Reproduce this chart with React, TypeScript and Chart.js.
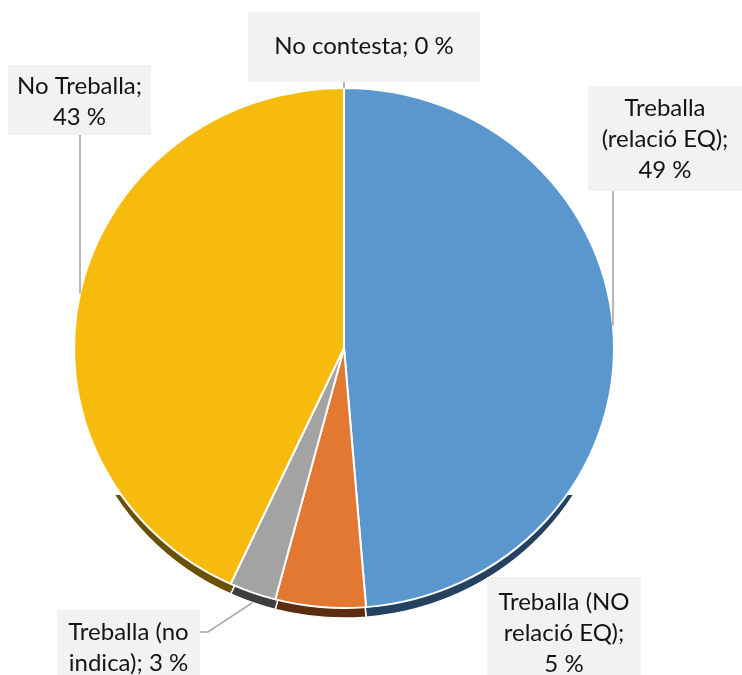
import React, { useEffect, useRef } from "react";
import { Chart, registerables } from "chart.js";

Chart.register(...registerables);

const categories = [
  "Treballa (relació EQ)",
  "Treballa (NO relació EQ)",
  "Treballa (no indica)",
  "No Treballa",
  "No contesta",
];
const values = [48.7, 5.4, 2.8, 43.1, 0];
const labelLines = [
  ["Treballa", "(relació EQ);", "49 %"],
  ["Treballa (NO", "relació EQ);", "5 %"],
  ["Treballa (no", "indica); 3 %"],
  ["No Treballa;", "43 %"],
  ["No contesta; 0 %"],
];
const faceColors = ["#5B97CF", "#E37832", "#A3A3A3", "#F7BB0D", "#70AD47"];
const sideColors = ["#24425F", "#5C2C10", "#3E3E3E", "#6A5006", "#2F4A1E"];

// layout of label boxes (x, y, w, h), first text line y, and leader anchors
const boxes = [
  { x: 588, y: 86, w: 154, h: 105, ty: 108, ax: 613, ay: 191, mode: "vertical" },
  { x: 487, y: 577, w: 154, h: 98, ty: 602, ax: 0, ay: 0, mode: "none" },
  { x: 57, y: 610, w: 143, h: 65, ty: 632, ax: 200, ay: 632, mode: "elbow" },
  { x: 8, y: 65, w: 143, h: 70, ty: 86, ax: 80, ay: 135, mode: "vertical" },
  { x: 248, y: 12, w: 232, h: 70, ty: 46, ax: 344, ay: 82, mode: "vertical" },
];

const FONT = "Lato, 'Open Sans', sans-serif";
const SQUASH = 260 / 270;
const DEPTH = 10;

function applyTilt(ctx: any, cx: number, cy: number) {
  ctx.translate(cx, cy);
  ctx.scale(1, SQUASH);
  ctx.translate(-cx, -cy);
}

const tiltPlugin = {
  id: "tilt3d",
  beforeDatasetsDraw(chart: any) {
    const ctx = chart.ctx;
    const meta = chart.getDatasetMeta(0);
    const first = meta.data[0];
    const cx = first.x;
    const cy = first.y;
    ctx.save();
    ctx.beginPath();
    ctx.rect(0, 495, chart.width, chart.height);
    ctx.clip();
    applyTilt(ctx, cx, cy);
    meta.data.forEach((arc: any, i: number) => {
      const p = arc.getProps(["x", "y", "startAngle", "endAngle", "outerRadius"], true);
      if (p.endAngle - p.startAngle <= 0) return;
      const oy = p.y + DEPTH / SQUASH;
      ctx.beginPath();
      ctx.moveTo(p.x, oy);
      ctx.arc(p.x, oy, p.outerRadius, p.startAngle, p.endAngle);
      ctx.closePath();
      ctx.fillStyle = sideColors[i];
      ctx.fill();
      ctx.lineWidth = 1.5;
      ctx.strokeStyle = "#ffffff";
      ctx.stroke();
    });
    ctx.restore();
    ctx.save();
    applyTilt(ctx, cx, cy);
  },
  afterDatasetsDraw(chart: any) {
    chart.ctx.restore();
  },
};

const labelPlugin = {
  id: "labelBoxes",
  afterDraw(chart: any) {
    const ctx = chart.ctx;
    const meta = chart.getDatasetMeta(0);
    ctx.save();
    ctx.font = `24px ${FONT}`;
    ctx.textAlign = "center";
    ctx.textBaseline = "middle";
    meta.data.forEach((arc: any, i: number) => {
      const b = boxes[i];
      const p = arc.getProps(["x", "y", "startAngle", "endAngle", "outerRadius"], true);
      const rx = p.outerRadius;
      const ry = p.outerRadius * SQUASH;
      ctx.strokeStyle = "#A6A6A6";
      ctx.lineWidth = 1.6;
      if (b.mode === "vertical") {
        const dx = (b.ax - p.x) / rx;
        const dy = ry * Math.sqrt(Math.max(1 - dx * dx, 0));
        const ey = p.y - dy;
        ctx.beginPath();
        ctx.moveTo(b.ax, b.ay);
        ctx.lineTo(b.ax, ey);
        ctx.stroke();
      } else if (b.mode === "elbow") {
        const mid = (p.startAngle + p.endAngle) / 2;
        const ex = p.x + Math.cos(mid) * rx;
        const ey = p.y + Math.sin(mid) * ry + DEPTH;
        ctx.beginPath();
        ctx.moveTo(b.ax, b.ay);
        ctx.lineTo(b.ax + 8, b.ay);
        ctx.lineTo(ex, ey);
        ctx.stroke();
      }
      ctx.fillStyle = "#F2F2F2";
      ctx.fillRect(b.x, b.y, b.w, b.h);
      ctx.fillStyle = "#141414";
      const lines = labelLines[i];
      const lh = 31;
      const cx = b.x + b.w / 2;
      lines.forEach((t, k) => ctx.fillText(t, cx, b.ty + k * lh));
    });
    ctx.restore();
  },
};

export default function App() {
  const ref = useRef<HTMLCanvasElement | null>(null);
  useEffect(() => {
    if (!ref.current) return;
    const chart = new Chart(ref.current, {
      type: "pie",
      data: {
        labels: categories,
        datasets: [
          {
            data: values,
            backgroundColor: faceColors,
            borderColor: "#ffffff",
            borderWidth: 2,
          },
        ],
      },
      options: {
        responsive: false,
        animation: false,
        radius: 270,
        layout: { padding: { left: 0, right: 54, top: 21, bottom: 0 } },
        plugins: {
          legend: { display: false },
          tooltip: { enabled: false },
        },
      } as any,
      plugins: [tiltPlugin, labelPlugin],
    });
    return () => chart.destroy();
  }, []);
  return (
    <div style={{ position: "fixed", left: 0, top: 0, width: 742, height: 675, background: "#fff" }}>
      <canvas ref={ref} width={742} height={675} />
    </div>
  );
}
